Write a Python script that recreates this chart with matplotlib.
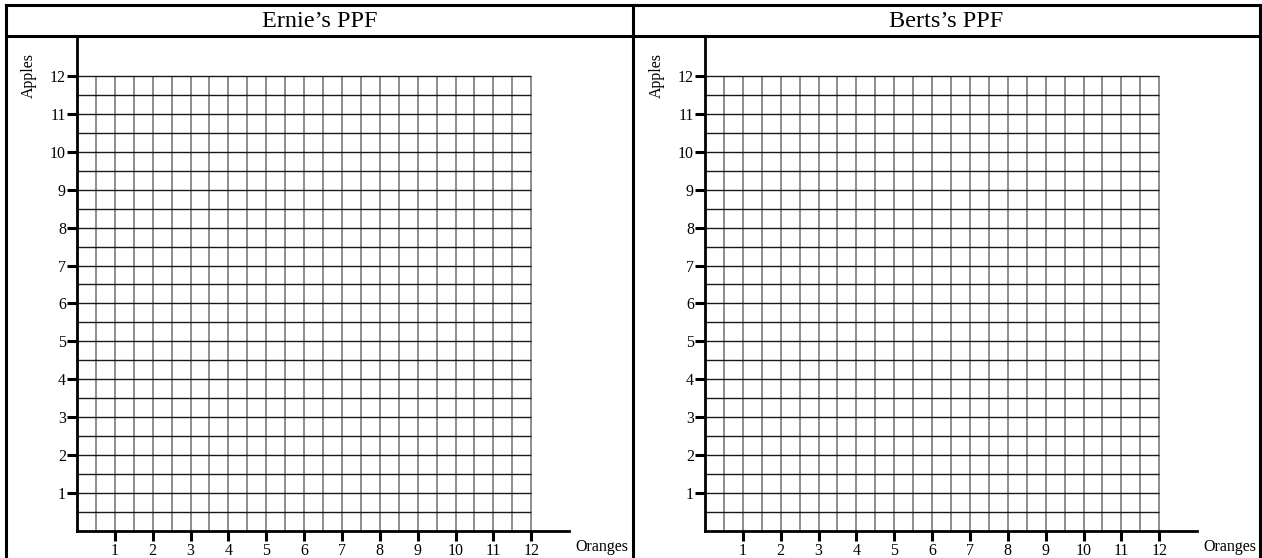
import numpy as np
import matplotlib
matplotlib.use("Agg")
import matplotlib.pyplot as plt

# ---- data ----
panel_titles = ["Ernie\u2019s PPF", "Berts\u2019s PPF"]
x_label = "Oranges"
y_label = "Apples"
x_ticks = [1, 2, 3, 4, 5, 6, 7, 8, 9, 10, 11, 12]
y_ticks = [1, 2, 3, 4, 5, 6, 7, 8, 9, 10, 11, 12]
grid_lines = [0.5 * k for k in range(1, 25)]  # every half unit up to 12
grid_max = 12
axis_max = 13

W, H = 1262, 558
DPI = 100
plt.rcParams['font.family'] = ['Liberation Serif', 'DejaVu Serif']

fig = plt.figure(figsize=(W / DPI, H / DPI), dpi=DPI)

# frame overlay (pixel coordinates)
ov = fig.add_axes([0, 0, 1, 1])
ov.set_xlim(0, W)
ov.set_ylim(H, 0)
ov.axis('off')
blw = 2.2
left_b, right_b, top_b, head_b, mid_b = 6, 1260, 5, 36, 633
ov.plot([left_b, right_b], [top_b, top_b], color='black', lw=blw, solid_capstyle='projecting')
ov.plot([left_b, right_b], [head_b, head_b], color='black', lw=blw)
ov.plot([left_b, left_b], [top_b, H + 5], color='black', lw=blw)
ov.plot([right_b, right_b], [top_b, H + 5], color='black', lw=blw)
ov.plot([mid_b, mid_b], [top_b, H + 5], color='black', lw=blw)
col_centers = [(left_b + mid_b) / 2, (mid_b + right_b) / 2]
for cx, t in zip(col_centers, panel_titles):
    ov.text(cx, 21.5, t, ha='center', va='center', fontsize=17.5)

origins_x = [77, 705]
origin_y = 530.5
unit = 37.85

for k, ox in enumerate(origins_x):
    left = ox / W
    bottom = (H - origin_y) / H
    width = unit * axis_max / W
    height = unit * axis_max / H
    ax = fig.add_axes([left, bottom, width, height])
    ax.set_xlim(0, axis_max)
    ax.set_ylim(0, axis_max)
    ax.patch.set_visible(False)
    for s in ['top', 'right']:
        ax.spines[s].set_visible(False)
    for s in ['left', 'bottom']:
        ax.spines[s].set_linewidth(2.0)
        ax.spines[s].set_zorder(5)
    # grid
    ax.vlines(grid_lines, 0, grid_max, colors='#6e6e6e', lw=1.1, zorder=2)
    ax.hlines(grid_lines, 0, grid_max, colors='#1a1a1a', lw=1.0, zorder=3)
    ax.set_xticks(x_ticks)
    ax.set_yticks(y_ticks)
    ax.set_xticklabels([str(v) for v in x_ticks])
    ax.set_yticklabels([str(v) for v in y_ticks])
    ax.tick_params(axis='both', direction='out', length=7.5, width=2.2,
                   labelsize=11.5, color='black')
    ax.tick_params(axis='y', pad=0.5)
    ax.tick_params(axis='x', pad=1.5)
    # axis labels in pixel space
    ov.text(ox + 525, 547, x_label, ha='center', va='center', fontsize=11.5)
    ov.text(ox - 48, 76, y_label, ha='center', va='center', fontsize=11.5,
            rotation=90)

fig.savefig("out.png", dpi=DPI)
